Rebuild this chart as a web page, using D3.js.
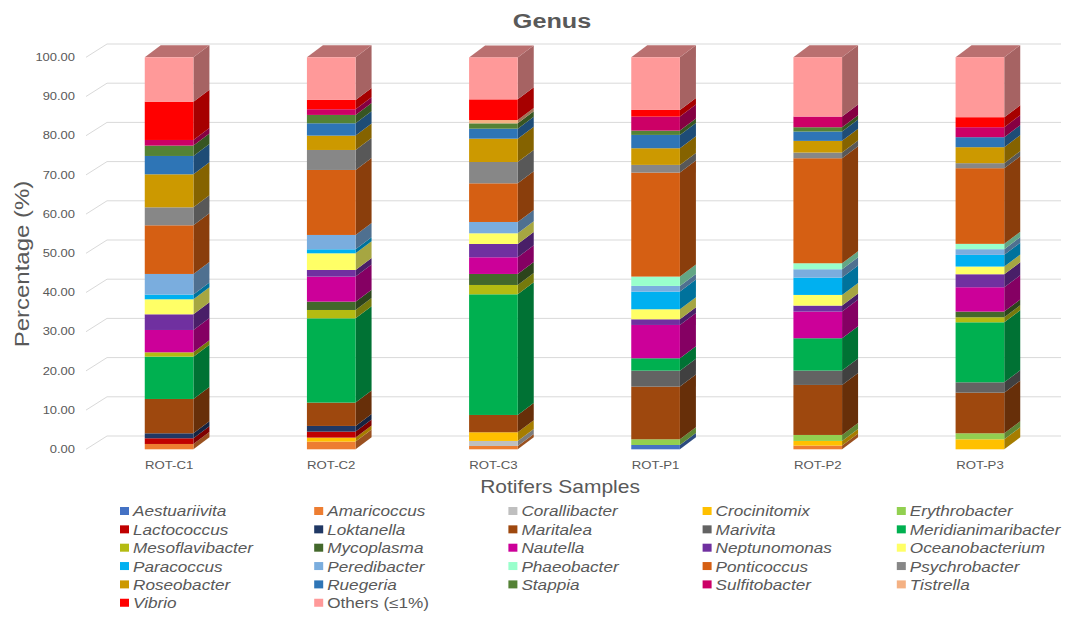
<!DOCTYPE html>
<html>
<head>
<meta charset="utf-8">
<script src="https://cdn.jsdelivr.net/npm/d3@7/dist/d3.min.js"></script>
<style>
  html, body { margin: 0; padding: 0; background: #fff; }
  svg { display: block; font-family: "Liberation Sans", Arial, sans-serif; }
</style>
</head>
<body>
<svg id="chart" width="1067" height="617"></svg>
<script>
// Relative abundance (%) of bacterial genera in rotifer samples
const samples = ["ROT-C1", "ROT-C2", "ROT-C3", "ROT-P1", "ROT-P2", "ROT-P3"];

const genera = [
  "Aestuariivita", "Amaricoccus", "Corallibacter", "Crocinitomix", "Erythrobacter",
  "Lactococcus", "Loktanella", "Maritalea", "Marivita", "Meridianimaribacter",
  "Mesoflavibacter", "Mycoplasma", "Nautella", "Neptunomonas", "Oceanobacterium",
  "Paracoccus", "Peredibacter", "Phaeobacter", "Ponticoccus", "Psychrobacter",
  "Roseobacter", "Ruegeria", "Stappia", "Sulfitobacter", "Tistrella",
  "Vibrio", "Others (≤1%)"
];

const genusColors = [
  "#4472C4", "#ED7D31", "#BFBFBF", "#FFC000", "#92D050",
  "#C00000", "#203864", "#9E480E", "#636363", "#00B050",
  "#B4BB12", "#43682B", "#CC0099", "#7030A0", "#FFFF66",
  "#00B0F0", "#7AADDE", "#99FFCC", "#D55F13", "#878787",
  "#CC9900", "#2E75B6", "#548235", "#CC0066", "#F4B183",
  "#FF0000", "#FF9999"
];

// one array per sample, in the genus order above
const rotC1 = [0, 1.36, 0, 0, 0, 1.45, 1.27, 8.76, 0, 10.80, 1.10, 0, 5.70, 4.00, 3.83, 1.19, 5.27, 0, 12.41, 4.59, 8.42, 4.68, 2.64, 1.44, 0, 9.78, 11.31];
const rotC2 = [0, 1.96, 0, 1.02, 0, 1.53, 1.45, 5.95, 0, 21.50, 2.13, 2.13, 6.38, 1.70, 4.25, 1.02, 3.66, 0, 16.58, 5.10, 3.66, 3.15, 2.13, 1.45, 0, 2.38, 10.88];
const rotC3 = [0, 0.85, 1.28, 2.21, 0, 0, 0, 4.42, 0, 30.78, 2.38, 2.81, 4.25, 3.40, 2.72, 0, 2.89, 0, 9.86, 5.44, 5.95, 2.55, 1.36, 0, 0.85, 5.27, 10.71];
const rotP1 = [1.10, 0, 0, 0, 1.45, 0, 0, 13.44, 4.08, 3.15, 0, 0, 8.50, 1.45, 2.55, 4.51, 1.45, 2.38, 26.53, 1.96, 4.25, 3.40, 1.10, 3.57, 0, 1.70, 13.44];
const rotP2 = [0, 0.94, 0, 1.19, 1.53, 0, 0, 12.76, 3.66, 8.25, 0, 0, 6.80, 1.53, 2.72, 4.42, 2.13, 1.53, 26.79, 1.45, 2.98, 2.38, 1.10, 2.72, 0, 0, 15.14];
const rotP3 = [0, 0, 0, 2.55, 1.53, 0, 0, 10.37, 2.64, 15.31, 1.28, 1.45, 6.21, 3.32, 1.96, 2.98, 1.45, 1.36, 19.30, 1.28, 4.08, 2.55, 0, 2.55, 0, 2.55, 15.31];

const sampleValues = [rotC1, rotC2, rotC3, rotP1, rotP2, rotP3];
const yTicks = [0, 10, 20, 30, 40, 50, 60, 70, 80, 90, 100];

// ---- build table for d3.stack ----
const table = samples.map((s, i) => {
  const row = { sample: s };
  genera.forEach((g, j) => { row[g] = sampleValues[i][j]; });
  return row;
});
const series = d3.stack().keys(genera)(table);

// ---- layout ----
const svg = d3.select("#chart");
const TEXT = "#595959";
const SX = 1.2;                 // widened lettering
const front = { left: 88, right: 1061, top: 57.3, bottom: 449.3 };
const wall = { dx: 19, dy: -13.3 };   // back-wall offset
const depth = { dx: 16, dy: -12 };    // column depth offset

const x = d3.scaleBand().domain(samples)
  .range([front.left, front.right]).paddingInner(0.7).paddingOuter(0.35);
const y = d3.scaleLinear().domain([0, 100]).range([front.bottom, front.top]);
const color = d3.scaleOrdinal().domain(genera).range(genusColors);

function shade(c, k) {
  const r = d3.rgb(c);
  return d3.rgb(r.r * k, r.g * k, r.b * k).formatHex();
}

function putText(g, tx, ty, str, opts = {}) {
  const t = g.append("text")
    .attr("transform", `translate(${tx},${ty})` + (opts.rotate ? ` rotate(${opts.rotate})` : "") + ` scale(${SX},1)`)
    .attr("text-anchor", opts.anchor || "start")
    .attr("dominant-baseline", "central")
    .attr("fill", TEXT)
    .attr("font-size", opts.size || 11)
    .text(str);
  if (opts.bold) t.attr("font-weight", "bold");
  if (opts.italic) t.attr("font-style", "italic");
  return t;
}

// ---- gridlines on back wall ----
const grid = svg.append("g").attr("stroke", "#D9D9D9").attr("stroke-width", 1).attr("fill", "none");
yTicks.forEach(v => {
  const yf = y(v);
  grid.append("path").attr("d",
    `M${front.left - 2},${yf} L${front.left + wall.dx},${yf + wall.dy} L${front.right},${yf + wall.dy}`);
});

// ---- y tick labels ----
const axisG = svg.append("g");
yTicks.forEach(v => putText(axisG, 75, y(v), d3.format(".2f")(v), { anchor: "end", size: 10.8 }));

// ---- 3D stacked columns ----
const bars = svg.append("g");
samples.forEach((s, i) => {
  const x0 = x(s), x1 = x(s) + x.bandwidth();
  const g = bars.append("g");
  const segs = series.map(ser => ({ key: ser.key, y0: ser[i][0], y1: ser[i][1] }))
    .filter(d => d.y1 - d.y0 > 0);
  // side faces
  g.selectAll("path.side").data(segs).join("path")
    .attr("class", "side")
    .attr("d", d => {
      const yb = y(d.y0), yt = y(d.y1);
      return `M${x1},${yb} L${x1 + depth.dx},${yb + depth.dy} L${x1 + depth.dx},${yt + depth.dy} L${x1},${yt} Z`;
    })
    .attr("fill", d => shade(color(d.key), 0.65));
  // top face of the column
  const top = segs[segs.length - 1];
  const yt = y(top.y1);
  g.append("path")
    .attr("d", `M${x0},${yt} L${x0 + depth.dx},${yt + depth.dy} L${x1 + depth.dx},${yt + depth.dy} L${x1},${yt} Z`)
    .attr("fill", shade(color(top.key), 0.73));
  // front faces
  g.selectAll("rect.front").data(segs).join("rect")
    .attr("class", "front")
    .attr("x", x0)
    .attr("width", x.bandwidth())
    .attr("y", d => y(d.y1))
    .attr("height", d => y(d.y0) - y(d.y1))
    .attr("fill", d => color(d.key));
});

// ---- category labels ----
samples.forEach(s => putText(axisG, x(s) + x.bandwidth() / 2, 465, s, { anchor: "middle", size: 11 }));

// ---- titles ----
putText(svg, 552, 21, "Genus", { anchor: "middle", size: 21, bold: true });
putText(svg, 560, 487, "Rotifers Samples", { anchor: "middle", size: 17.5 });
putText(svg, 22, 264, "Percentage (%)", { anchor: "middle", size: 20, rotate: -90 });

// ---- legend ----
const legend = svg.append("g");
const legCols = 5, legX0 = 120, legDX = 194.2, legY0 = 511, legDY = 18.35;
genera.forEach((gname, j) => {
  const col = j % legCols, row = Math.floor(j / legCols);
  const lx = legX0 + col * legDX, ly = legY0 + row * legDY;
  legend.append("rect")
    .attr("x", lx).attr("y", ly - 4)
    .attr("width", 9).attr("height", 8)
    .attr("fill", color(gname));
  putText(legend, lx + 13, ly + 0.5, gname, { size: 14.3, italic: gname !== "Others (≤1%)" });
});
</script>
</body>
</html>
